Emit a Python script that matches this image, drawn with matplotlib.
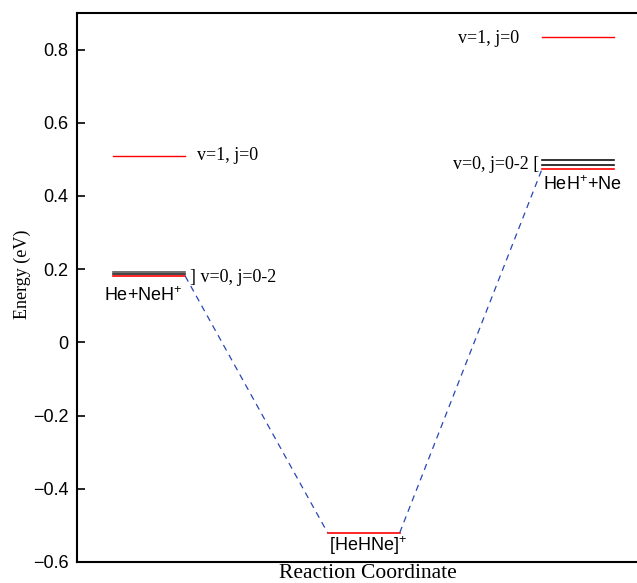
import matplotlib
matplotlib.use("Agg")
import matplotlib.pyplot as plt

plt.rcParams['font.family'] = ['Liberation Sans', 'DejaVu Sans']
plt.rcParams['mathtext.fontset'] = 'custom'
plt.rcParams['mathtext.rm'] = 'Liberation Sans'
plt.rcParams['mathtext.it'] = 'Liberation Sans'
plt.rcParams['mathtext.bf'] = 'Liberation Sans'

# ---- data (energies in eV) ----
stages = ['He+NeH$^{+}$', '[HeHNe]$^{+}$', 'HeH$^{+}$+Ne']
left_v0 = [0.1915, 0.186, 0.181]      # He+NeH+ v=0, j=0-2
left_v1 = 0.510                        # He+NeH+ v=1, j=0
well = -0.520                          # [HeHNe]+
right_v0 = [0.4975, 0.486, 0.474]     # HeH+ + Ne v=0, j=0-2
right_v1 = 0.835                       # HeH+ + Ne v=1, j=0
yticks = [-0.6, -0.4, -0.2, 0, 0.2, 0.4, 0.6, 0.8]
ytick_labels = ['\u22120.6', '\u22120.4', '\u22120.2', '0', '0.2', '0.4', '0.6', '0.8']

# ---- layout ----
W, H = 637, 583
fig = plt.figure(figsize=(W / 100, H / 100), dpi=100)
ax = fig.add_axes([77 / W, (H - 562) / H, 1 - 77 / W + 0.002, (562 - 13) / H])
ax.set_xlim(77, 637)
ax.set_ylim(-0.6, 0.9)

half = 36
cx = [149, 363, 577]
serif = 'Liberation Serif'

# left levels
for e, c in zip(left_v0, ['#555555', '#222222', 'red']):
    ax.plot([cx[0] - half, cx[0] + half], [e, e], color=c, lw=1.2)
ax.plot([cx[0] - half, cx[0] + half], [left_v1, left_v1], color='red', lw=1.0)

# well
ax.plot([cx[1] - half, cx[1] + half], [well, well], color='red', lw=1.2)

# right levels
for e, c in zip(right_v0, ['#111111', '#111111', 'red']):
    ax.plot([cx[2] - half, cx[2] + half], [e, e], color=c, lw=1.2)
ax.plot([cx[2] - half, cx[2] + half], [right_v1, right_v1], color='red', lw=1.0)

# dashed connections
dash = dict(color='#2846b4', lw=0.9, ls=(0, (5, 4)))
ax.plot([cx[0] + half, cx[1] - half], [left_v0[-1], well], **dash)
ax.plot([cx[1] + half, cx[2] - half], [well, right_v0[-1]], **dash)

# labels
ax.text(cx[0] + 48, left_v1, 'v=1, j=0', family=serif, fontsize=13, va='center', ha='left')
ax.text(cx[0] + 41, 0.176, '] v=0, j=0-2', family=serif, fontsize=13, va='center', ha='left')
ax.text(cx[0] + 33, 0.128, stages[0], fontsize=13, va='center', ha='right')
ax.text(367, -0.554, stages[1], fontsize=13, va='center', ha='center')
ax.text(cx[2] - 39, 0.486, 'v=0, j=0-2 [', family=serif, fontsize=13, va='center', ha='right')
ax.text(cx[2] - 35, 0.431, stages[2], fontsize=13, va='center', ha='left')
ax.text(cx[2] - 59, 0.829, 'v=1, j=0', family=serif, fontsize=13, va='center', ha='right')

# axes styling
ax.set_yticks(yticks)
ax.set_yticklabels(ytick_labels, fontsize=13)
ax.set_xticks([])
ax.tick_params(axis='y', direction='in', length=6, width=1.2, pad=6)
ax.spines['right'].set_visible(False)
for s in ['left', 'top', 'bottom']:
    ax.spines[s].set_linewidth(1.5)
ax.set_xlabel('Reaction Coordinate', family=serif, fontsize=15.5)
ax.set_ylabel('Energy (eV)', family=serif, fontsize=13)
ax.xaxis.set_label_coords((367 - 77) / (637 - 77), -0.003)
ax.xaxis.label.set_va('top')
ax.yaxis.set_label_coords((22 - 77) / (637 - 77), (562 - 274) / (562 - 13))
ax.yaxis.label.set_va('center')

fig.savefig('out.png', dpi=100)
